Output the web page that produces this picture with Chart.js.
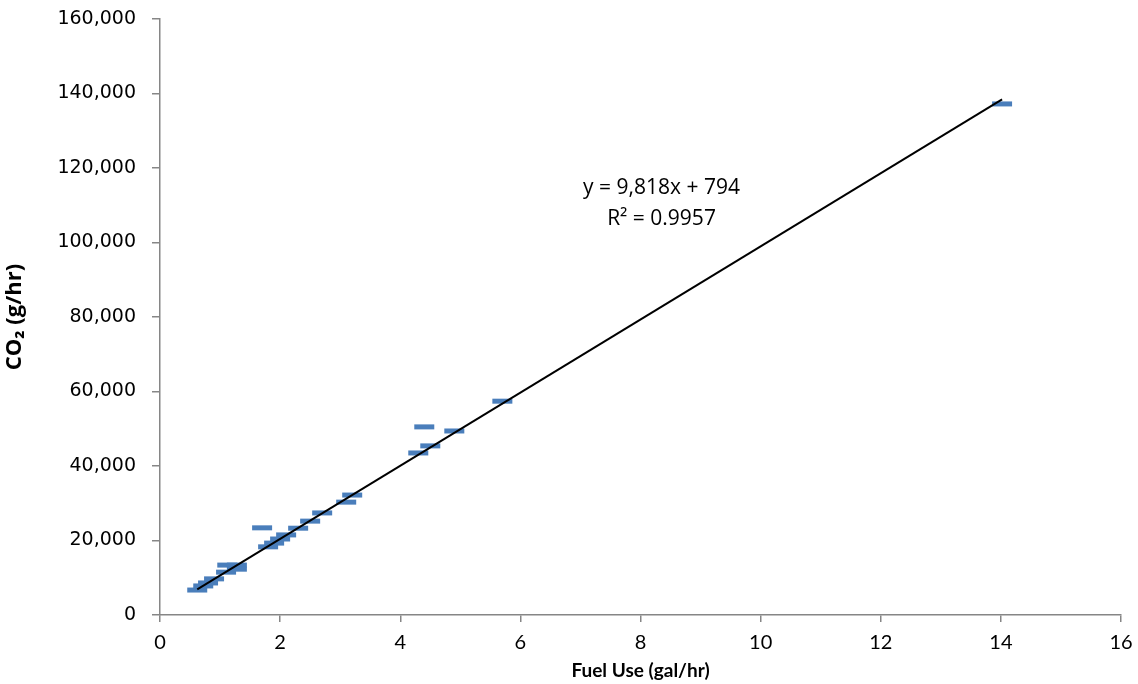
<!DOCTYPE html>
<html>
<head>
<meta charset="utf-8">
<script src="https://cdn.jsdelivr.net/npm/chart.js@4/dist/chart.umd.min.js"></script>
<style>
html,body{margin:0;padding:0;background:#fff;}
#wrap{width:1138px;height:684px;position:relative;}
</style>
</head>
<body>
<div id="wrap"><canvas id="c" width="1138" height="684"></canvas></div>
<script>
// Data
const fuelUse = [0.62, 0.72, 0.80, 0.90, 1.10, 1.12, 1.28, 1.28, 1.70, 1.80, 1.90, 2.00, 2.10, 2.30, 2.50, 2.70, 3.10, 3.20, 4.30, 4.40, 4.50, 4.90, 5.70, 14.02];
const co2     = [6700, 7800, 8600, 9700, 11500, 13400, 13400, 12300, 23400, 18300, 19300, 20400, 21500, 23300, 25200, 27400, 30300, 32200, 43500, 50500, 45400, 49400, 57400, 137200];
// Trendline as labelled in the chart
const trendSlope = 9818;
const trendIntercept = 794;
const trendRSquared = 0.9957;
const trendRange = [0.62, 14.02];
const xTicks = [0, 2, 4, 6, 8, 10, 12, 14, 16];
const yTicks = [0, 20000, 40000, 60000, 80000, 100000, 120000, 140000, 160000];

const points = fuelUse.map((x, i) => ({x: x, y: co2[i]}));
const trend = trendRange.map(x => ({x: x, y: trendSlope * x + trendIntercept}));

const fmt = v => v.toLocaleString('en-US');

const eqPlugin = {
  id: 'eq',
  afterDatasetsDraw(chart) {
    const ctx = chart.ctx;
    const xs = chart.scales.x, ys = chart.scales.y;
    const cx = xs.getPixelForValue(8.35);
    const cy = ys.getPixelForValue(114600);
    ctx.save();
    ctx.fillStyle = '#000';
    ctx.font = '21px "Open Sans", sans-serif';
    ctx.textAlign = 'center';
    ctx.textBaseline = 'middle';
    ctx.fillText('y = ' + fmt(trendSlope) + 'x + ' + fmt(trendIntercept), cx, cy);
    ctx.fillText('R² = ' + trendRSquared.toFixed(4), cx, cy + 31);
    ctx.restore();
  }
};

new Chart(document.getElementById('c'), {
  type: 'scatter',
  data: {
    datasets: [
      {
        type: 'line',
        data: trend,
        borderColor: '#000',
        borderWidth: 2,
        pointRadius: 0,
        fill: false
      },
      {
        data: points,
        pointStyle: 'line',
        pointRadius: 10,
        pointHoverRadius: 10,
        pointBorderWidth: 5,
        pointBorderColor: '#4A7EBB',
        pointBackgroundColor: '#4A7EBB',
        borderColor: '#4A7EBB'
      }
    ]
  },
  options: {
    responsive: false,
    animation: false,
    layout: {padding: {top: 0, right: 0, left: 0, bottom: 0}},
    plugins: {legend: {display: false}, tooltip: {enabled: false}},
    scales: {
      x: {
        type: 'linear',
        min: 0, max: 16,
        afterBuildTicks: s => { s.ticks = xTicks.map(v => ({value: v})); },
        afterFit: s => { s.height = 69; s.paddingRight = 17; s.paddingLeft = 0; },
        border: {color: '#868686', width: 1.5},
        grid: {drawOnChartArea: false, drawTicks: true, tickLength: 7, color: '#868686', lineWidth: 1.5},
        ticks: {color: '#000', font: {family: 'Lato', size: 20}, padding: 9, maxRotation: 0},
        title: {display: true, text: 'Fuel Use (gal/hr)', color: '#000', font: {family: 'Lato', size: 19, weight: 'bold'}, padding: {top: 0, bottom: 2}}
      },
      y: {
        type: 'linear',
        min: 0, max: 160000,
        afterBuildTicks: s => { s.ticks = yTicks.map(v => ({value: v})); },
        afterFit: s => { s.width = 160; s.paddingTop = 19; s.paddingBottom = 0; },
        border: {color: '#868686', width: 1.5},
        grid: {drawOnChartArea: false, drawTicks: true, tickLength: 8, color: '#868686', lineWidth: 1.5},
        ticks: {color: '#000', font: {family: 'DejaVu Sans', size: 19}, padding: 16, callback: v => fmt(v)},
        title: {display: true, text: 'CO₂ (g/hr)', color: '#000', font: {family: 'Open Sans', size: 22, weight: 'bold'}, padding: {top: 2, bottom: 0}}
      }
    }
  },
  plugins: [eqPlugin]
});
</script>
</body>
</html>
